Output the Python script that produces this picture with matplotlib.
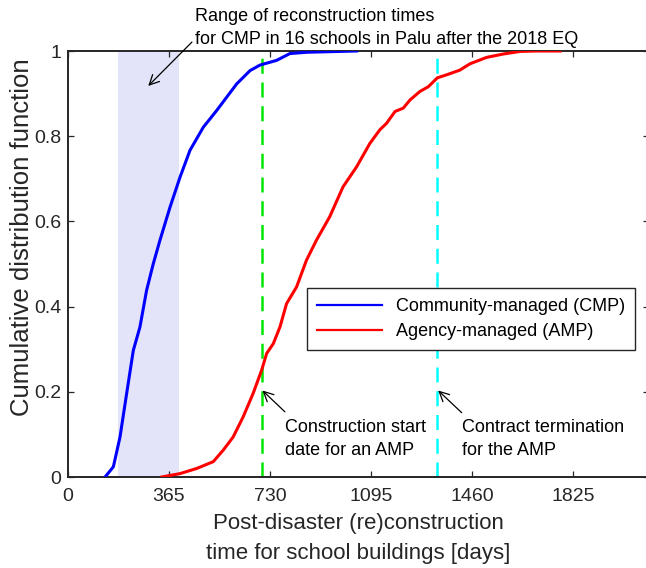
import matplotlib
matplotlib.use("Agg")
import matplotlib.pyplot as plt
from matplotlib.lines import Line2D

plt.rcParams['font.family'] = ['Liberation Sans', 'DejaVu Sans']

# Empirical CDF of reconstruction time, community-managed projects
cmp_days = [134, 164, 188, 212, 236, 260, 284, 308, 332, 369, 405, 441, 489,
            537, 574, 610, 658, 694, 754, 802, 862, 1043]
cmp_cdf = [0.0, 0.024, 0.094, 0.196, 0.297, 0.352, 0.438, 0.500, 0.555, 0.634,
           0.704, 0.767, 0.821, 0.860, 0.892, 0.923, 0.954, 0.967, 0.978,
           0.994, 0.997, 1.0]

# Empirical CDF of reconstruction time, agency-managed projects
amp_days = [339, 405, 465, 525, 561, 597, 633, 669, 700, 718, 742, 766, 790,
            826, 862, 898, 946, 994, 1043, 1091, 1127, 1151, 1182, 1212, 1236,
            1272, 1302, 1335, 1368, 1416, 1453, 1513, 1574, 1634, 1694, 1779]
amp_cdf = [0.0, 0.008, 0.020, 0.036, 0.063, 0.094, 0.141, 0.196, 0.251, 0.290,
           0.313, 0.352, 0.407, 0.446, 0.509, 0.556, 0.611, 0.681, 0.728,
           0.783, 0.815, 0.830, 0.858, 0.866, 0.885, 0.905, 0.916, 0.937,
           0.944, 0.955, 0.970, 0.985, 0.993, 0.999, 1.0, 1.0]

# Observed range for CMP in Palu (days)
palu_range = [181, 400]
# Reference dates (days)
amp_start = 700
amp_termination = 1335

series_labels = ["Community-managed (CMP)", "Agency-managed (AMP)"]
x_ticks = [0, 365, 730, 1095, 1460, 1825]
y_ticks = [0, 0.2, 0.4, 0.6, 0.8, 1]
y_tick_labels = ["0", "0.2", "0.4", "0.6", "0.8", "1"]

W, H = 646, 568
fig = plt.figure(figsize=(W / 100, H / 100), dpi=100)
ax = fig.add_axes([68 / W, 91 / H, 581 / W, 426 / H])

ax.axvspan(palu_range[0], palu_range[1], color="#e3e3fa", lw=0, zorder=0)
ax.plot(cmp_days, cmp_cdf, color="#0000ff", lw=2.2, zorder=3)
ax.plot(amp_days, amp_cdf, color="#ff0000", lw=2.2, zorder=3)
ax.axvline(amp_start, color="#00e600", lw=1.8, dashes=(6, 3.5), zorder=2)
ax.axvline(amp_termination, color="#00ffff", lw=1.8, dashes=(6, 3.5), zorder=2)

ax.set_xlim(0, 2100)
ax.set_ylim(0, 1)
ax.set_xticks(x_ticks)
ax.set_yticks(y_ticks)
ax.set_yticklabels(y_tick_labels)
ax.tick_params(direction="in", length=4.5, width=0.9, top=True, right=True,
               labelsize=14, colors="#262626")
ax.tick_params(axis="x", pad=8)
ax.tick_params(axis="y", pad=5)
for sp in ax.spines.values():
    sp.set_linewidth(1.4)
    sp.set_color("#262626")

fig.text(22 / W, 1 - 237 / H, "Cumulative distribution function",
         rotation=90, ha="center", va="center", fontsize=18.5,
         color="#262626")
fig.text(358.5 / W, 1 - 523 / H, "Post-disaster (re)construction",
         ha="center", va="center", fontsize=16, color="#262626")
fig.text(358.5 / W, 1 - 553 / H, "time for school buildings [days]",
         ha="center", va="center", fontsize=16, color="#262626")

arrow = dict(arrowstyle="->,head_length=0.7,head_width=0.35", lw=0.9,
             color="black", shrinkA=0, shrinkB=0)

# Palu range note
ax.text(459, 1.080, "Range of reconstruction times", fontsize=13,
        ha="left", va="center", clip_on=False)
ax.text(459, 1.026, "for CMP in 16 schools in Palu after the 2018 EQ",
        fontsize=13, ha="left", va="center", clip_on=False)
ax.annotate("", xy=(290, 0.918), xytext=(448, 1.021), arrowprops=arrow,
            annotation_clip=False)

# Construction start note
ax.annotate("", xy=(amp_start + 3, 0.203), xytext=(784, 0.153), arrowprops=arrow)
ax.text(784, 0.117, "Construction start", fontsize=13, ha="left", va="center")
ax.text(784, 0.063, "date for an AMP", fontsize=13, ha="left", va="center")

# Contract termination note
ax.annotate("", xy=(amp_termination + 3, 0.203), xytext=(1423, 0.151),
            arrowprops=arrow)
ax.text(1423, 0.117, "Contract termination", fontsize=13, ha="left", va="center")
ax.text(1423, 0.063, "for the AMP", fontsize=13, ha="left", va="center")

handles = [Line2D([], [], color="#0000ff", lw=1.6),
           Line2D([], [], color="#ff0000", lw=1.6)]
leg = ax.legend(handles, series_labels, loc="upper left",
                bbox_to_anchor=(307 / W, 1 - 288 / H),
                bbox_transform=fig.transFigure, fontsize=13, frameon=True,
                fancybox=False, framealpha=1, edgecolor="#262626",
                handlelength=3.6, handletextpad=0.8, labelspacing=0.47,
                borderpad=0.55, borderaxespad=0)
leg.get_frame().set_linewidth(1.0)

fig.savefig("out.png", dpi=100)
